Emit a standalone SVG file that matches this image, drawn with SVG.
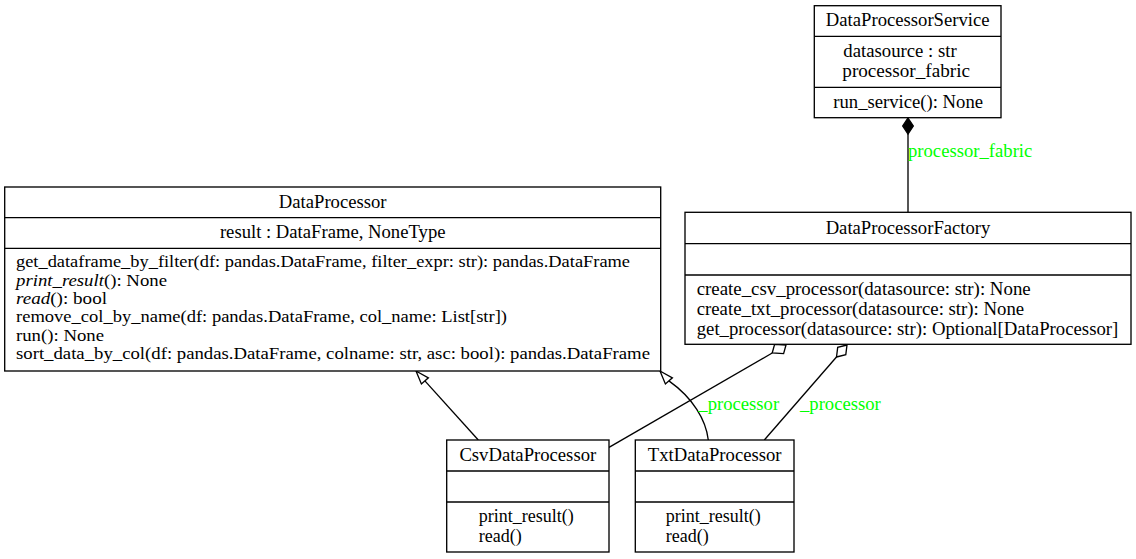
<svg xmlns="http://www.w3.org/2000/svg" width="1136" height="559" viewBox="0 0 1136 559">
<style>
  text { font-family: "Liberation Serif", "Times New Roman", serif; font-size: 18.67px; fill: #000; }
  .c { text-anchor: middle; }
  .m { font-size: 18px; }
  .s { font-size: 16.5px; }
  .lbl { fill: #00ff00; }
  .box { fill: #fff; stroke: #000; stroke-width: 1.33; }
  .div { stroke: #000; stroke-width: 1.33; }
  .edge { fill: none; stroke: #000; stroke-width: 1.33; }
  .hollow { fill: #fff; stroke: #000; stroke-width: 1.33; }
  .solid { fill: #000; stroke: #000; stroke-width: 1.33; }
  .it { font-style: italic; }
</style>
<rect x="0" y="0" width="1136" height="559" fill="#fff"/>

<g id="connectors">
  <!-- composition service -> factory -->
  <line class="edge" x1="908" y1="134" x2="908" y2="212"/>
  <polygon class="solid" points="908,118 913.3,126 908,134 902.7,126"/>
  <text class="lbl" x="908" y="157">processor_fabric</text>

  <!-- Csv inherits DataProcessor -->
  <line class="edge" x1="478.3" y1="440" x2="424.9" y2="380.9"/>
  <polygon class="hollow" points="416,371 428.4,377.8 421.4,384"/>

  <!-- Txt inherits DataProcessor -->
  <path class="edge" d="M708.3,440 C706,420 693,398 668.9,380.9"/>
  <polygon class="hollow" points="660,371 672.4,377.8 665.4,384"/>

  <!-- Csv aggregated into Factory -->
  <line class="edge" x1="609" y1="447.3" x2="772.2" y2="353"/>
  <polygon class="hollow" points="786,345 783.6,353.6 772.2,353 774.6,344.4"/>
  <text class="lbl" x="698.3" y="410">_processor</text>

  <!-- Txt aggregated into Factory -->
  <line class="edge" x1="764.3" y1="440" x2="836.5" y2="357"/>
  <polygon class="hollow" points="847,345 845.8,354.6 836.5,357 837.7,347.4"/>
  <text class="lbl" x="800" y="410">_processor</text>
</g>

<g id="DataProcessorService">
  <rect class="box" x="814.3" y="5.7" width="186.7" height="112"/>
  <line class="div" x1="814.3" y1="36.3" x2="1001" y2="36.3"/>
  <line class="div" x1="814.3" y1="87.3" x2="1001" y2="87.3"/>
  <text class="c" x="907.7" y="26">DataProcessorService</text>
  <text class="m" x="843.3" y="57" textLength="113.4" lengthAdjust="spacingAndGlyphs">datasource : str</text>
  <text class="m" x="842.3" y="77" textLength="127.7" lengthAdjust="spacingAndGlyphs">processor_fabric</text>
  <text x="833.3" y="107.5">run_service(): None</text>
</g>

<g id="DataProcessorFactory">
  <rect class="box" x="685" y="212.3" width="446" height="132"/>
  <line class="div" x1="685" y1="243.7" x2="1131" y2="243.7"/>
  <line class="div" x1="685" y1="275" x2="1131" y2="275"/>
  <text class="c" x="908" y="234">DataProcessorFactory</text>
  <text class="m" x="696.7" y="295" textLength="334" lengthAdjust="spacingAndGlyphs">create_csv_processor(datasource: str): None</text>
  <text class="m" x="696.7" y="315" textLength="327.5" lengthAdjust="spacingAndGlyphs">create_txt_processor(datasource: str): None</text>
  <text class="m" x="696.7" y="335" textLength="421.6" lengthAdjust="spacingAndGlyphs">get_processor(datasource: str): Optional[DataProcessor]</text>
</g>

<g id="DataProcessor">
  <rect class="box" x="4.7" y="187" width="656" height="184"/>
  <line class="div" x1="4.7" y1="217.7" x2="660.7" y2="217.7"/>
  <line class="div" x1="4.7" y1="248.3" x2="660.7" y2="248.3"/>
  <text class="c" x="332.7" y="208">DataProcessor</text>
  <text class="c" x="332.7" y="237.5">result : DataFrame, NoneType</text>
  <text class="s" x="16" y="267" textLength="614" lengthAdjust="spacingAndGlyphs">get_dataframe_by_filter(df: pandas.DataFrame, filter_expr: str): pandas.DataFrame</text>
  <text class="s" x="16" y="285.5" textLength="151" lengthAdjust="spacingAndGlyphs"><tspan class="it">print_result</tspan>(): None</text>
  <text class="s" x="16" y="303.8" textLength="91" lengthAdjust="spacingAndGlyphs"><tspan class="it">read</tspan>(): bool</text>
  <text class="s" x="16" y="322.3" textLength="491" lengthAdjust="spacingAndGlyphs">remove_col_by_name(df: pandas.DataFrame, col_name: List[str])</text>
  <text class="s" x="16" y="340.7" textLength="88" lengthAdjust="spacingAndGlyphs">run(): None</text>
  <text class="s" x="16" y="359" textLength="634" lengthAdjust="spacingAndGlyphs">sort_data_by_col(df: pandas.DataFrame, colname: str, asc: bool): pandas.DataFrame</text>
</g>

<g id="CsvDataProcessor">
  <rect class="box" x="446.7" y="440" width="162.3" height="112"/>
  <line class="div" x1="446.7" y1="471" x2="609" y2="471"/>
  <line class="div" x1="446.7" y1="502" x2="609" y2="502"/>
  <text class="c" x="527.8" y="461">CsvDataProcessor</text>
  <text class="m" x="478.7" y="522">print_result()</text>
  <text class="m" x="478.7" y="542">read()</text>
</g>

<g id="TxtDataProcessor">
  <rect class="box" x="635.3" y="440" width="158.7" height="112"/>
  <line class="div" x1="635.3" y1="471" x2="794" y2="471"/>
  <line class="div" x1="635.3" y1="502" x2="794" y2="502"/>
  <text class="c" x="714.7" y="461">TxtDataProcessor</text>
  <text class="m" x="665.7" y="522">print_result()</text>
  <text class="m" x="665.7" y="542">read()</text>
</g>
</svg>
